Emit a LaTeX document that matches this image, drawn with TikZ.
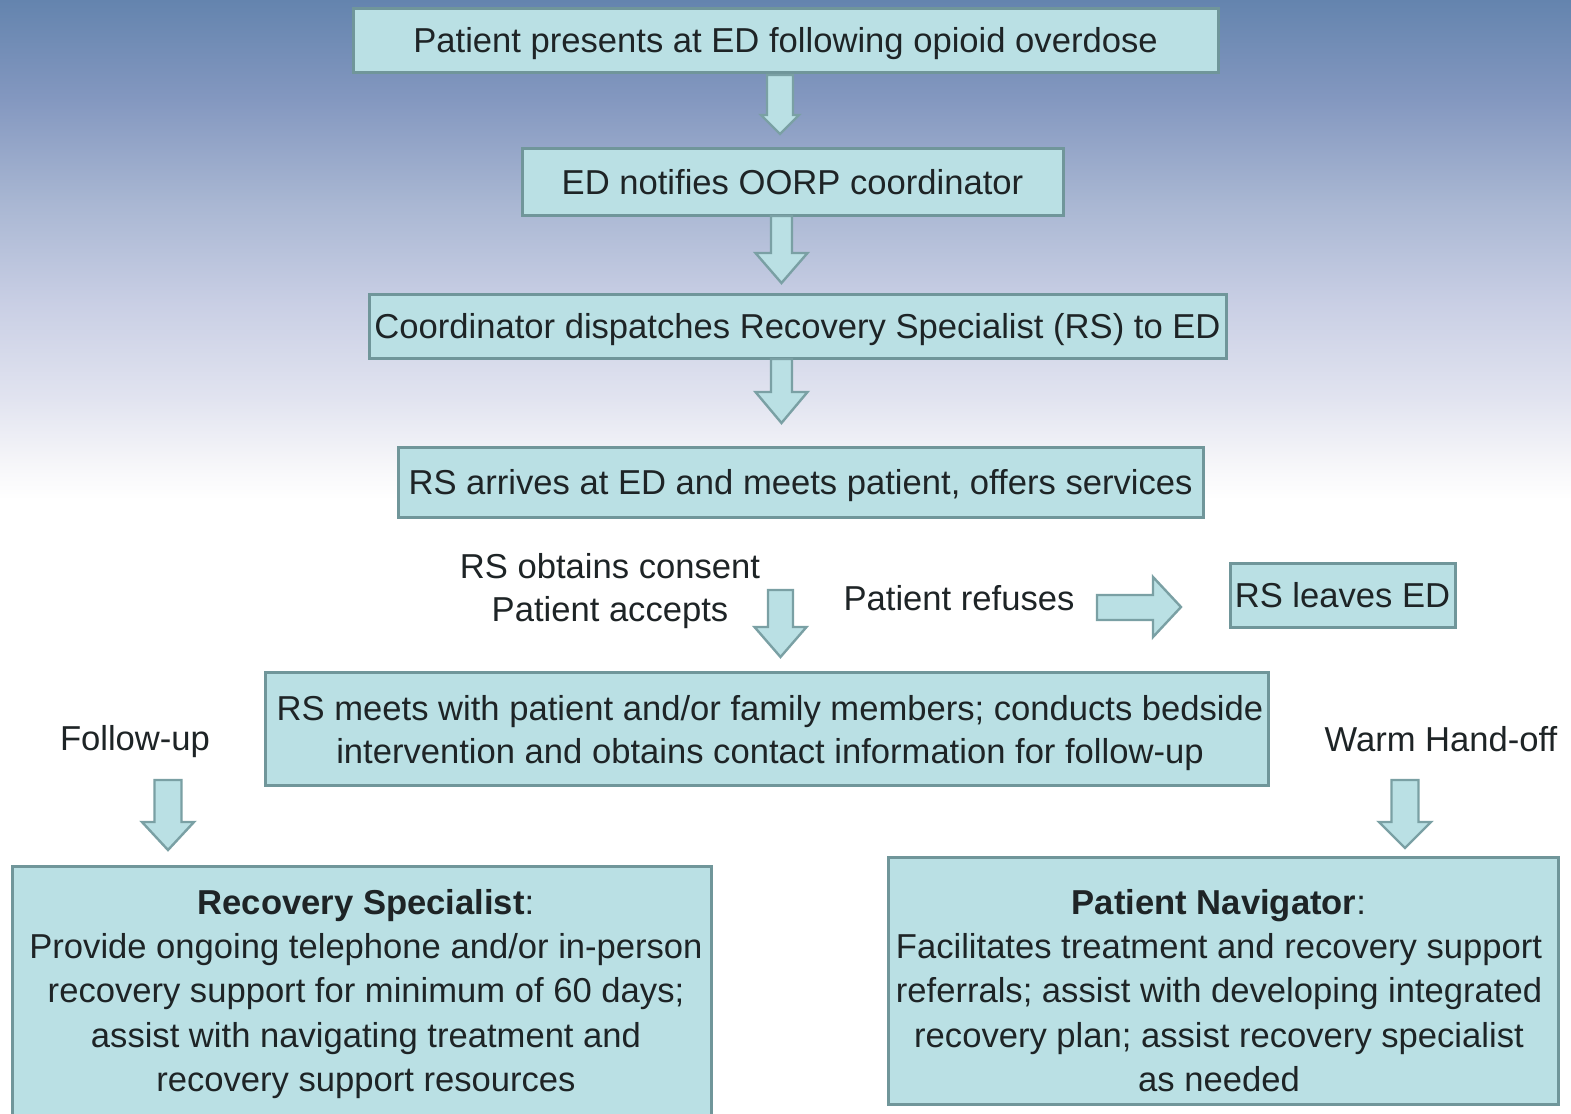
\documentclass[tikz,border=0pt]{standalone}
\usepackage{fontspec}
\setmainfont{Liberation Sans}
\definecolor{boxfill}{RGB}{186,224,228}
\definecolor{boxline}{RGB}{112,150,154}
\definecolor{arrline}{RGB}{122,160,164}
\definecolor{txt}{RGB}{30,36,38}
\definecolor{bga}{RGB}{100,132,174}
\definecolor{bgb}{RGB}{132,152,192}
\definecolor{bgc}{RGB}{168,182,210}
\definecolor{bgd}{RGB}{200,206,228}
\definecolor{bge}{RGB}{226,228,240}
\definecolor{bgf}{RGB}{248,248,250}
\newcommand{\downblk}[6]{%
  \draw[blk] ({#1-#5},{#2}) -- ({#1+#5},{#2}) -- ({#1+#5},{#3}) -- ({#1+#6},{#3})
    -- ({#1},{#4}) -- ({#1-#6},{#3}) -- ({#1-#5},{#3}) -- cycle;}
\begin{document}
\begin{tikzpicture}[x=0.5pt,y=-0.5pt,
  box/.style={draw=boxline, line width=1.5pt, fill=boxfill, inner sep=0pt,
    text=txt, align=center, text height=12.5pt, text depth=0pt,
    font=\fontsize{17.3}{21.5}\selectfont},
  lbl/.style={text=txt, inner sep=0pt, align=center,
    font=\fontsize{17.3}{21.5}\selectfont},
  bigl/.style={text=txt, inner sep=0pt, align=center,
    font=\fontsize{17.3}{22.1}\selectfont},
  blk/.style={fill=boxfill, draw=arrline, line width=1.2pt, line join=miter}]
\useasboundingbox (0,0) rectangle (1571,1114);
\clip (0,0) rectangle (1571,1114);
\fill[white] (0,0) rectangle (1571,1114);
\shade[top color=bga, bottom color=bgb] (0,0) rectangle (1571,101);
\shade[top color=bgb, bottom color=bgc] (0,100) rectangle (1571,201);
\shade[top color=bgc, bottom color=bgd] (0,200) rectangle (1571,301);
\shade[top color=bgd, bottom color=bge] (0,300) rectangle (1571,401);
\shade[top color=bge, bottom color=bgf] (0,400) rectangle (1571,471);
\shade[top color=bgf, bottom color=white] (0,470) rectangle (1571,500);

% boxes
\node[box, minimum width=432.5pt, minimum height=32pt] (b1) at (785.5,40)
  {Patient presents at ED following opioid overdose};
\node[box, minimum width=270.5pt, minimum height=33.5pt] (b2) at (792.5,181.5)
  {ED notifies OORP coordinator};
\node[box, minimum width=428.5pt, minimum height=32pt] (b3) at (797.5,326)
  {Coordinator dispatches Recovery Specialist (RS) to ED};
\node[box, minimum width=402.5pt, minimum height=35pt] (b4) at (800.5,482)
  {RS arrives at ED and meets patient, offers services};
\node[box, minimum width=112.5pt, minimum height=32pt] (b5) at (1342.5,595)
  {RS leaves ED};
\node[box, minimum width=501.5pt, minimum height=56.5pt] (b6) at (766.5,728.5) {};
\node[lbl] (t6) at (770,733.5)
  {RS meets with patient and/or family members; conducts bedside\\
   intervention and obtains contact information for follow-up};
\node[box, minimum width=349.5pt, minimum height=130pt] (b7) at (361.5,996) {};
\node[box, minimum width=335pt, minimum height=123.5pt] (b8) at (1223,980.5) {};
\node[bigl] (t7) at (366,994)
  {\textbf{Recovery Specialist}:\\
   Provide ongoing telephone and/or in-person\\
   recovery support for minimum of 60 days;\\
   assist with navigating treatment and\\
   recovery support resources};
\node[bigl] (t8) at (1219,990.5)
  {\textbf{Patient Navigator}:\\
   Facilitates treatment and recovery support\\
   referrals; assist with developing integrated\\
   recovery plan; assist recovery specialist\\
   as needed};

% labels
\node[lbl] (consent) at (610,591) {RS obtains consent\\Patient accepts};
\node[lbl] (refuse) at (959,598) {Patient refuses};
\node[lbl] (follow) at (135,742) {Follow-up};
\node[lbl] (warm) at (1441,739) {Warm Hand-off};

% block arrows
\downblk{780}{75}{115}{134}{13}{19}
\downblk{781.5}{216}{253}{283}{10.5}{26}
\downblk{781.5}{359}{392}{423}{10.5}{26}
\downblk{780.5}{590}{627}{657}{12.5}{26}
\downblk{168}{780}{822}{850}{13.5}{26}
\downblk{1405}{780}{822}{848}{13.5}{26}
\draw[blk] (1097,595) -- (1153,595) -- (1153,577) -- (1181,607)
  -- (1153,637) -- (1153,620) -- (1097,620) -- cycle;
\end{tikzpicture}
\end{document}
